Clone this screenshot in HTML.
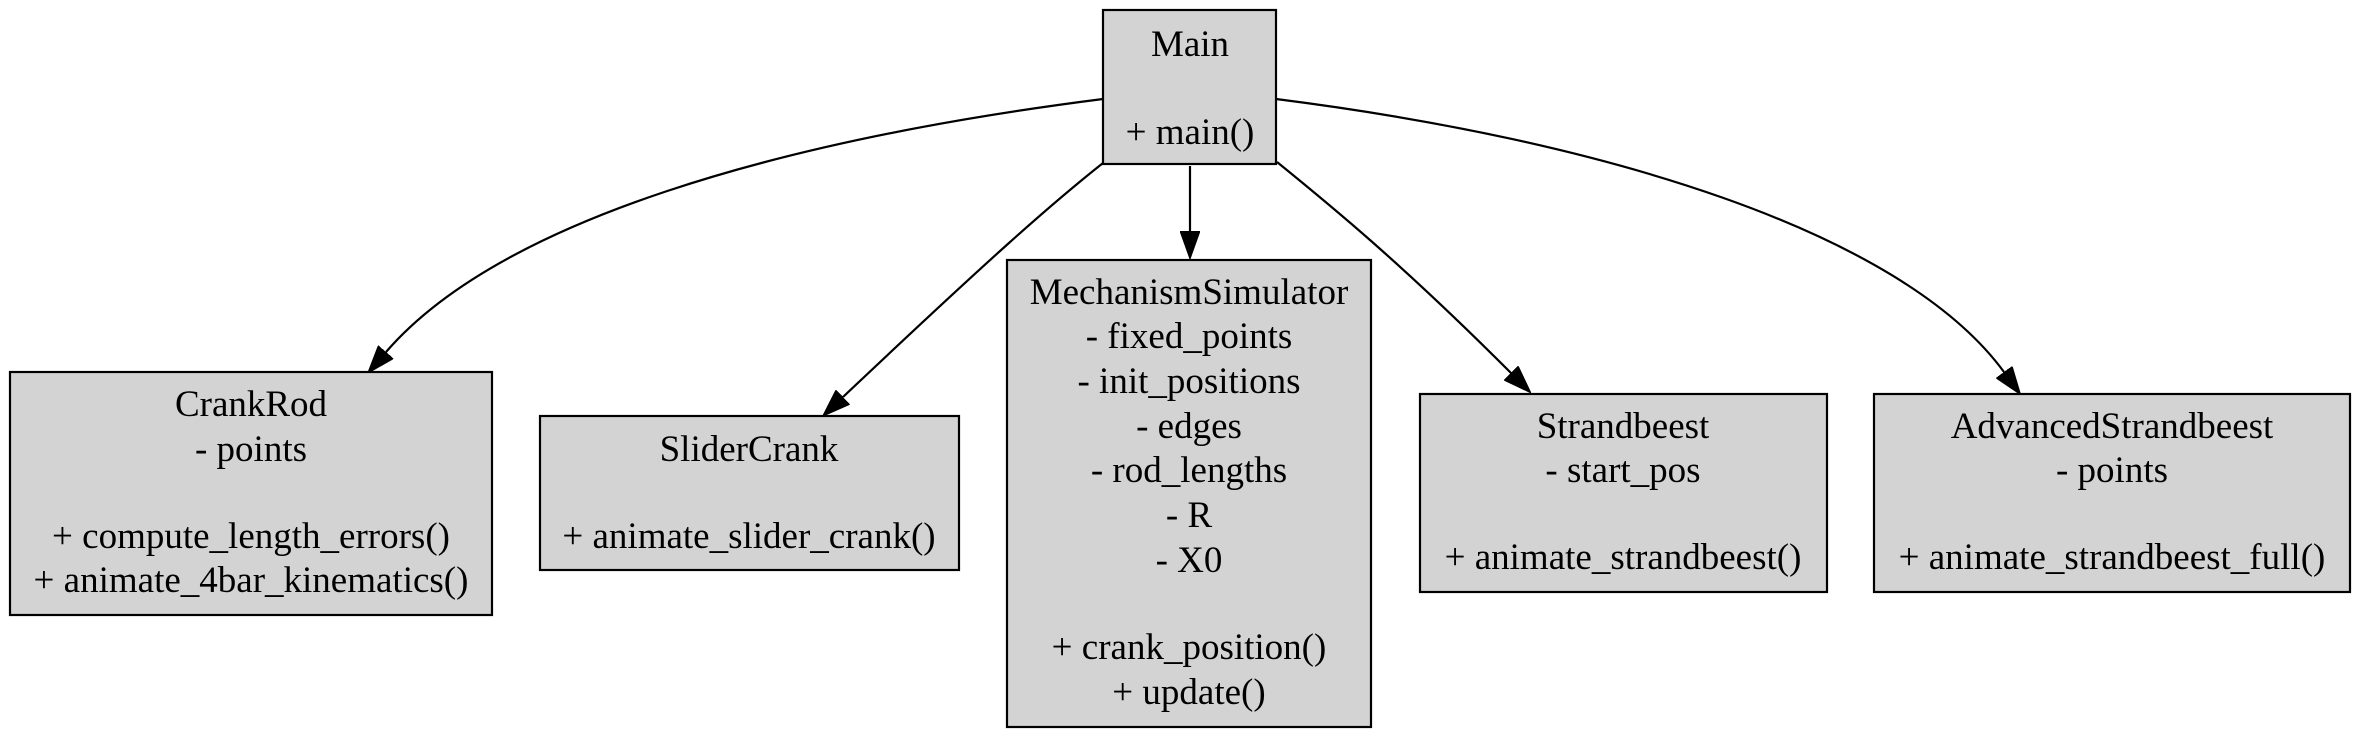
<!DOCTYPE html>
<html><head><meta charset="utf-8"><style>
html,body{margin:0;padding:0;background:#fff;}
svg{display:block;}
text{font-family:"Liberation Serif","Times New Roman",serif;font-size:37px;fill:#000;text-anchor:middle;}
rect{fill:#d3d3d3;stroke:#000;stroke-width:2.2;}
path.e{fill:none;stroke:#000;stroke-width:2.2;}
</style></head><body>
<svg width="2354" height="738" viewBox="0 0 2354 738" xmlns="http://www.w3.org/2000/svg">
<defs>
<marker id="ah" viewBox="0 -10 28 20" markerWidth="28" markerHeight="20" refX="0" refY="0" orient="auto" markerUnits="userSpaceOnUse">
<path d="M0,-10 L28,0 L0,10 z" fill="#000" stroke="#000" stroke-width="1"/>
</marker>
</defs>

<!-- edges -->
<path class="e" d="M1103,99 C 780,140 500,220 386,352" marker-end="url(#ah)"/>
<path class="e" d="M1103,163 C 1050,205 990,258 843,397" marker-end="url(#ah)"/>
<path class="e" d="M1190,166 L1190,231" marker-end="url(#ah)"/>
<path class="e" d="M1277,162 C 1330,205 1400,262 1511,373" marker-end="url(#ah)"/>
<path class="e" d="M1276,99 C 1600,140 1900,230 2004,372" marker-end="url(#ah)"/>

<!-- Main -->
<rect x="1103" y="10" width="173" height="154"/>
<text x="1190" y="56">Main</text>
<text x="1190" y="144">+ main()</text>

<!-- CrankRod -->
<rect x="10" y="372" width="482" height="243"/>
<text x="251" y="416">CrankRod</text>
<text x="251" y="461">- points</text>
<text x="251" y="548">+ compute_length_errors()</text>
<text x="251" y="592">+ animate_4bar_kinematics()</text>

<!-- SliderCrank -->
<rect x="540" y="416" width="419" height="154"/>
<text x="749" y="461">SliderCrank</text>
<text x="749" y="548">+ animate_slider_crank()</text>

<!-- MechanismSimulator -->
<rect x="1007" y="260" width="364" height="467"/>
<text x="1189" y="304">MechanismSimulator</text>
<text x="1189" y="348">- fixed_points</text>
<text x="1189" y="393">- init_positions</text>
<text x="1189" y="438">- edges</text>
<text x="1189" y="482">- rod_lengths</text>
<text x="1189" y="527">- R</text>
<text x="1189" y="572">- X0</text>
<text x="1189" y="659">+ crank_position()</text>
<text x="1189" y="704">+ update()</text>

<!-- Strandbeest -->
<rect x="1420" y="394" width="407" height="198"/>
<text x="1623" y="438">Strandbeest</text>
<text x="1623" y="482">- start_pos</text>
<text x="1623" y="569">+ animate_strandbeest()</text>

<!-- AdvancedStrandbeest -->
<rect x="1874" y="394" width="476" height="198"/>
<text x="2112" y="438">AdvancedStrandbeest</text>
<text x="2112" y="482">- points</text>
<text x="2112" y="569">+ animate_strandbeest_full()</text>
</svg>
</body></html>
